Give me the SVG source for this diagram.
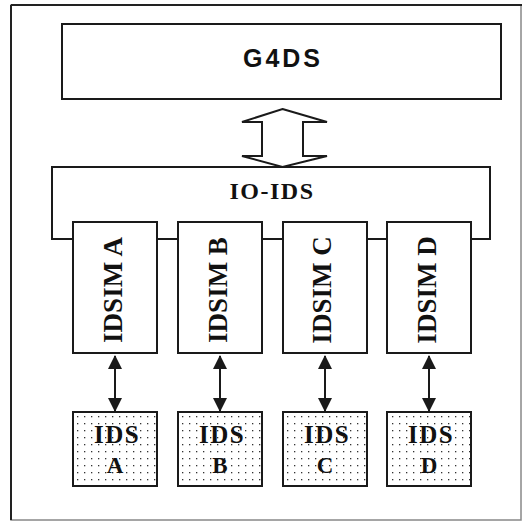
<svg xmlns="http://www.w3.org/2000/svg" width="522" height="523" viewBox="0 0 522 523">
  <style>
    .box { fill: #ffffff; stroke: #1a1a1a; stroke-width: 2; }
    .ids { fill: url(#dots); stroke: #1a1a1a; stroke-width: 2; }
    .serif { font-family: "Liberation Serif", "Times New Roman", serif; font-weight: bold; fill: #111; }
    .sans { font-family: "Liberation Sans", Arial, sans-serif; font-weight: bold; fill: #111; }
    .link { stroke: #1a1a1a; stroke-width: 2; fill: none; marker-start: url(#head); marker-end: url(#head); }
  </style>
  <defs>
    <pattern id="dots" width="7" height="7" patternUnits="userSpaceOnUse" x="75" y="414">
      <rect width="7" height="7" fill="#ffffff"/>
      <rect x="2" y="2" width="1.3" height="1.3" fill="#333"/>
    </pattern>
    <marker id="head" viewBox="0 0 14 14" refX="13" refY="7" markerWidth="14" markerHeight="14" markerUnits="userSpaceOnUse" orient="auto-start-reverse">
      <path d="M0,0 L14,7 L0,14 Z" fill="#1a1a1a"/>
    </marker>
  </defs>

  <rect x="0" y="0" width="522" height="523" fill="#ffffff"/>
  <!-- outer frame -->
  <rect x="11" y="5" width="510" height="515" fill="none" stroke="#888" stroke-width="1.5"/>
  <line x1="11" y1="5" x2="11" y2="520" stroke="#222" stroke-width="2"/>
  <line x1="11" y1="5" x2="522" y2="5" stroke="#222" stroke-width="2"/>

  <g id="g4ds">
    <rect class="box" x="62" y="24" width="439" height="75"/>
    <text class="sans" x="283" y="67" font-size="25" letter-spacing="3" text-anchor="middle">G4DS</text>
  </g>

  <g id="io-ids">
    <rect class="box" x="52" y="167" width="438" height="72"/>
    <text class="serif" x="272" y="199" font-size="24" letter-spacing="1.5" text-anchor="middle">IO-IDS</text>
  </g>

  <g id="idsim-a">
    <rect class="box" x="73" y="222" width="84" height="131"/>
    <text class="serif" transform="translate(122,290) rotate(-90)" font-size="27" text-anchor="middle">IDSIM A</text>
  </g>
  <g id="idsim-b">
    <rect class="box" x="178" y="222" width="84" height="131"/>
    <text class="serif" transform="translate(227,290) rotate(-90)" font-size="27" text-anchor="middle">IDSIM B</text>
  </g>
  <g id="idsim-c">
    <rect class="box" x="283" y="222" width="84" height="131"/>
    <text class="serif" transform="translate(331,290) rotate(-90)" font-size="27" text-anchor="middle">IDSIM C</text>
  </g>
  <g id="idsim-d">
    <rect class="box" x="387" y="222" width="84" height="131"/>
    <text class="serif" transform="translate(436,290) rotate(-90)" font-size="27" text-anchor="middle">IDSIM D</text>
  </g>

  <g id="ids-a">
    <rect class="ids" x="73" y="412" width="84" height="74"/>
    <text class="serif" x="117" y="443" font-size="25" letter-spacing="1.5" text-anchor="middle">IDS</text>
    <text class="serif" x="115" y="473" font-size="23" text-anchor="middle">A</text>
  </g>
  <g id="ids-b">
    <rect class="ids" x="178" y="412" width="84" height="74"/>
    <text class="serif" x="222" y="443" font-size="25" letter-spacing="1.5" text-anchor="middle">IDS</text>
    <text class="serif" x="220" y="473" font-size="23" text-anchor="middle">B</text>
  </g>
  <g id="ids-c">
    <rect class="ids" x="283" y="412" width="84" height="74"/>
    <text class="serif" x="327" y="443" font-size="25" letter-spacing="1.5" text-anchor="middle">IDS</text>
    <text class="serif" x="325" y="473" font-size="23" text-anchor="middle">C</text>
  </g>
  <g id="ids-d">
    <rect class="ids" x="387" y="412" width="84" height="74"/>
    <text class="serif" x="431" y="443" font-size="25" letter-spacing="1.5" text-anchor="middle">IDS</text>
    <text class="serif" x="429" y="473" font-size="23" text-anchor="middle">D</text>
  </g>

  <g id="connectors">
    <path d="M282.5,109 L327,122 L303,122 L303,156 L327,156 L282.5,167 L242,156 L262,156 L262,122 L242,122 Z" fill="#ffffff" stroke="#1a1a1a" stroke-width="2" stroke-linejoin="miter"/>
    <line class="link" x1="115" y1="356" x2="115" y2="411"/>
    <line class="link" x1="220" y1="356" x2="220" y2="411"/>
    <line class="link" x1="325" y1="356" x2="325" y2="411"/>
    <line class="link" x1="429" y1="356" x2="429" y2="411"/>
  </g>
</svg>
